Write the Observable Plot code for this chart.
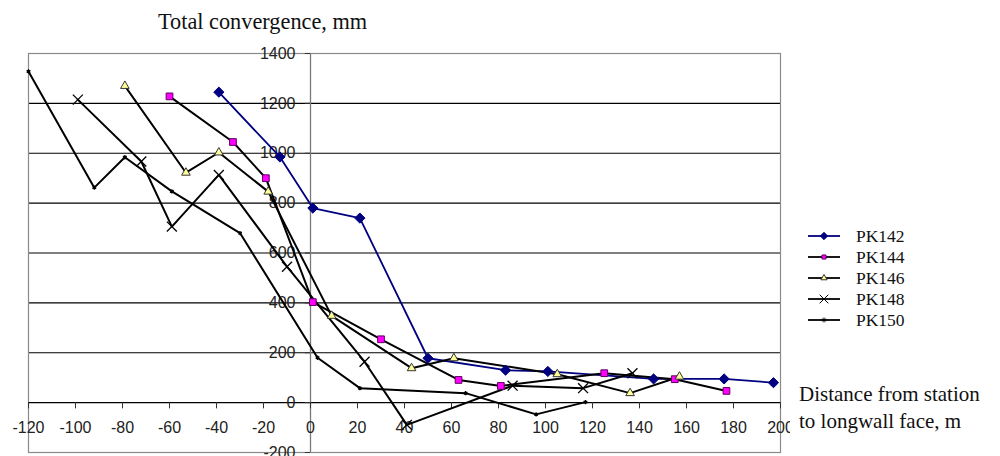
<!DOCTYPE html>
<html>
<head>
<meta charset="utf-8">
<script src="https://cdn.jsdelivr.net/npm/d3@7"></script>
<script src="https://cdn.jsdelivr.net/npm/@observablehq/plot@0.6"></script>
<style>
  html, body { margin: 0; padding: 0; background: #fff; }
  #wrap { position: relative; width: 1000px; height: 456px; overflow: hidden; }
  #chart { position: absolute; left: 0; top: 0; }
  .serif { font-family: "Liberation Serif", "Times New Roman", serif; color: #111; position: absolute; white-space: nowrap; }
  #title { left: 158px; top: 9px; font-size: 22.3px; }
  #xtitle { left: 790px; top: 381px; font-size: 21px; line-height: 26.7px; background: #fff; padding-left: 9px; }
  #legend { position: absolute; left: 800px; top: 224px; }
</style>
</head>
<body>
<div id="wrap">
  <div id="chart"></div>
  <div id="title" class="serif">Total convergence, mm</div>
  <div id="xtitle" class="serif">Distance from station<br>to longwall face, m</div>
  <svg id="legend" width="140" height="110"></svg>
</div>
<script>
// ---- data ----
const seriesNames = ["PK142", "PK144", "PK146", "PK148", "PK150"];
const x142 = [-39, -13, 1, 21, 50, 83, 101, 146, 176, 197];
const y142 = [1245, 985, 780, 740, 178, 130, 125, 95, 95, 80];
const x144 = [-60, -33, -19, 1, 30, 63, 81, 125, 155, 177];
const y144 = [1228, 1045, 900, 403, 254, 91, 67, 118, 94, 47];
const x146 = [-79, -53, -39, -18, 9, 43, 61, 105, 136, 157];
const y146 = [1270, 922, 1003, 846, 348, 138, 178, 114, 38, 104];
const x148 = [-99, -72, -59, -39, -10, 23, 41, 86, 116, 137];
const y148 = [1215, 967, 706, 913, 545, 164, -89, 68, 58, 118];
const x150 = [-120, -92, -79, -59, -30, 3, 21, 66, 96, 117];
const y150 = [1328, 862, 984, 847, 680, 180, 58, 38, -47, 2];
const xTicks = [-120, -100, -80, -60, -40, -20, 0, 20, 40, 60, 80, 100, 120, 140, 160, 180, 200];
const yTicks = [-200, 0, 200, 400, 600, 800, 1000, 1200, 1400];
const gridTicks = [200, 400, 600, 800, 1000, 1200];

// ---- styles ----
const styles = {
  PK142: {stroke: "#000080", symbol: "diamond2", fill: "#000080", mstroke: "#000080", r: 4.6, sw: 1.8},
  PK144: {stroke: "#000", symbol: "square", fill: "#ff00ff", mstroke: "#600060", r: 3.8, sw: 2},
  PK146: {stroke: "#000", symbol: "triangle", fill: "#ffff99", mstroke: "#333", r: 3.2, sw: 2},
  PK148: {stroke: "#000", symbol: "times", fill: "none", mstroke: "#000", r: 4.6, sw: 2},
  PK150: {stroke: "#000", symbol: "asterisk", fill: "none", mstroke: "#000", r: 2.0, sw: 2}
};

const xs = [x142, x144, x146, x148, x150];
const ys = [y142, y144, y146, y148, y150];
const tables = seriesNames.map((name, i) => xs[i].map((x, j) => ({name, x, y: ys[i][j]})));

const marks = [
  Plot.ruleY(gridTicks, {stroke: "#000", strokeWidth: 1.2}),
  Plot.frame({stroke: "#8a8a8a", strokeWidth: 1.2}),
  Plot.ruleY([0], {stroke: "#000", strokeWidth: 1.2}),
  Plot.ruleX([0], {stroke: "#7a7a7a", strokeWidth: 1.3}),
  Plot.ruleX(xTicks, {x: d => d, y1: 0, y2: -25, stroke: "#333", strokeWidth: 1}),
  Plot.ruleY(yTicks, {y: d => d, x1: -2.2, x2: 0, stroke: "#333", strokeWidth: 1}),
  Plot.text(xTicks, {x: d => d, y: 0, text: d => String(d), dy: 25, fontSize: 16, fill: "#222", fontFamily: "Liberation Sans, Arial, sans-serif"}),
  Plot.text(yTicks, {x: 0, y: d => d, text: d => String(d), textAnchor: "end", dx: -15, fontSize: 16, fill: "#222", fontFamily: "Liberation Sans, Arial, sans-serif"})
];
tables.forEach((t, i) => {
  const s = styles[seriesNames[i]];
  marks.push(Plot.line(t, {x: "x", y: "y", stroke: s.stroke, strokeWidth: s.sw}));
});
tables.forEach((t, i) => {
  const s = styles[seriesNames[i]];
  marks.push(Plot.dot(t, {x: "x", y: "y", symbol: () => s.symbol, r: s.r, fill: s.fill, stroke: s.mstroke, strokeWidth: s.symbol === "times" || s.symbol === "asterisk" ? 1.3 : 1}));
});

const chart = Plot.plot({
  width: 1000,
  height: 456,
  marginLeft: 28,
  marginRight: 220,
  marginTop: 53,
  marginBottom: 4,
  x: {domain: [-120, 200], axis: null},
  y: {domain: [-200, 1400], axis: null},
  symbol: {type: "identity"},
  style: {background: "#fff", overflow: "visible"},
  marks
});
document.getElementById("chart").append(chart);

// ---- legend ----
const leg = d3.select("#legend");
const symMap = {diamond2: d3.symbolDiamond2, square: d3.symbolSquare, triangle: d3.symbolTriangle, times: d3.symbolTimes, asterisk: d3.symbolAsterisk};
seriesNames.forEach((name, i) => {
  const s = styles[name];
  const cy = 12 + i * 21;
  const g = leg.append("g").attr("transform", `translate(0,${cy})`);
  g.append("line").attr("x1", 8).attr("x2", 40).attr("y1", 0).attr("y2", 0).attr("stroke", s.stroke).attr("stroke-width", 1.8);
  const rr = name === "PK142" ? 3.3 : name === "PK148" ? 4 : 2.3;
  g.append("path").attr("transform", "translate(24,0)")
    .attr("d", d3.symbol(symMap[s.symbol], Math.PI * rr * rr)())
    .attr("fill", s.fill).attr("stroke", s.mstroke).attr("stroke-width", 1);
  g.append("text").attr("x", 56).attr("y", 0).attr("dy", "0.35em")
    .attr("font-family", "Liberation Serif, Times New Roman, serif").attr("font-size", 17.5).attr("fill", "#111").text(name);
});
</script>
</body>
</html>
